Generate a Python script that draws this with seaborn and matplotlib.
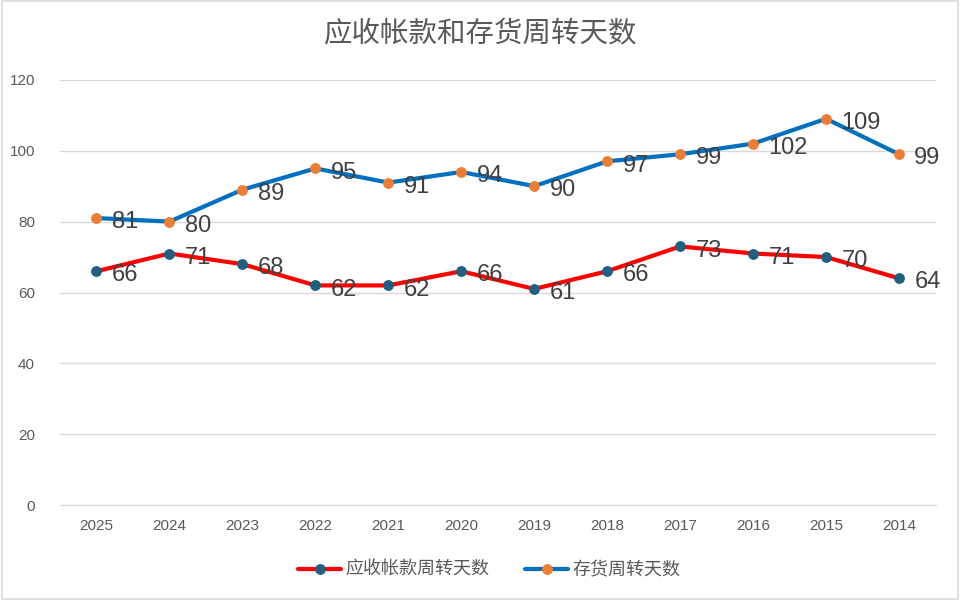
import pandas as pd
import seaborn as sns
import matplotlib.pyplot as plt

years = ['2025', '2024', '2023', '2022', '2021', '2020', '2019', '2018', '2017', '2016', '2015', '2014']
ar_days = [66, 71, 68, 62, 62, 66, 61, 66, 73, 71, 70, 64]
inv_days = [81, 80, 89, 95, 91, 94, 90, 97, 99, 102, 109, 99]
ar_name = '应收帐款周转天数'
inv_name = '存货周转天数'

sns.set_style('white')
plt.rcParams['font.family'] = ['Liberation Sans', 'Noto Sans CJK SC', 'DejaVu Sans']

df = pd.DataFrame({'year': years, ar_name: ar_days, inv_name: inv_days})

fig = plt.figure(figsize=(9.6, 6), dpi=100)
ax = fig.add_axes([0.0625, 0.158, 0.912, 0.709])

series = [(ar_name, '#FF0000', '#1F5F7F'), (inv_name, '#0070C0', '#ED7D31')]
for name, lc, mc in series:
    sns.lineplot(data=df, x='year', y=name, ax=ax, color=lc, linewidth=3,
                 marker='o', markersize=7, markerfacecolor=mc, markeredgecolor=mc,
                 label=name, sort=False)
    for i, v in enumerate(df[name]):
        ax.annotate(str(v), (i, v), xytext=(11, -3), textcoords='offset points',
                    ha='left', va='center', fontsize=17, color='#404040')

ax.set_ylim(0, 120)
ax.set_yticks(range(0, 121, 20))
ax.set_xlim(-0.5, len(years) - 0.5)
ax.yaxis.grid(True, color='#D9D9D9', linewidth=1)
ax.set_axisbelow(True)
for s in ['top', 'right', 'left']:
    ax.spines[s].set_visible(False)
ax.spines['bottom'].set_color('#D9D9D9')
ax.tick_params(axis='both', length=0, labelsize=11, colors='#595959', pad=10)
ax.tick_params(axis='y', pad=18)
ax.set_xlabel('')
ax.set_ylabel('')

fig.suptitle('应收帐款和存货周转天数', y=0.965, fontsize=20.5, color='#595959')

ax.legend(loc='upper center', bbox_to_anchor=(0.49, -0.095), ncol=2, frameon=False,
          fontsize=13, labelcolor='#595959', handlelength=2.4, columnspacing=2.0,
          handletextpad=0.2)

fig.patches.append(plt.Rectangle((0.002, 0.002), 0.996, 0.996, transform=fig.transFigure,
                                 fill=False, edgecolor='#D9D9D9', linewidth=1.2))

fig.savefig('out.png', dpi=100)
